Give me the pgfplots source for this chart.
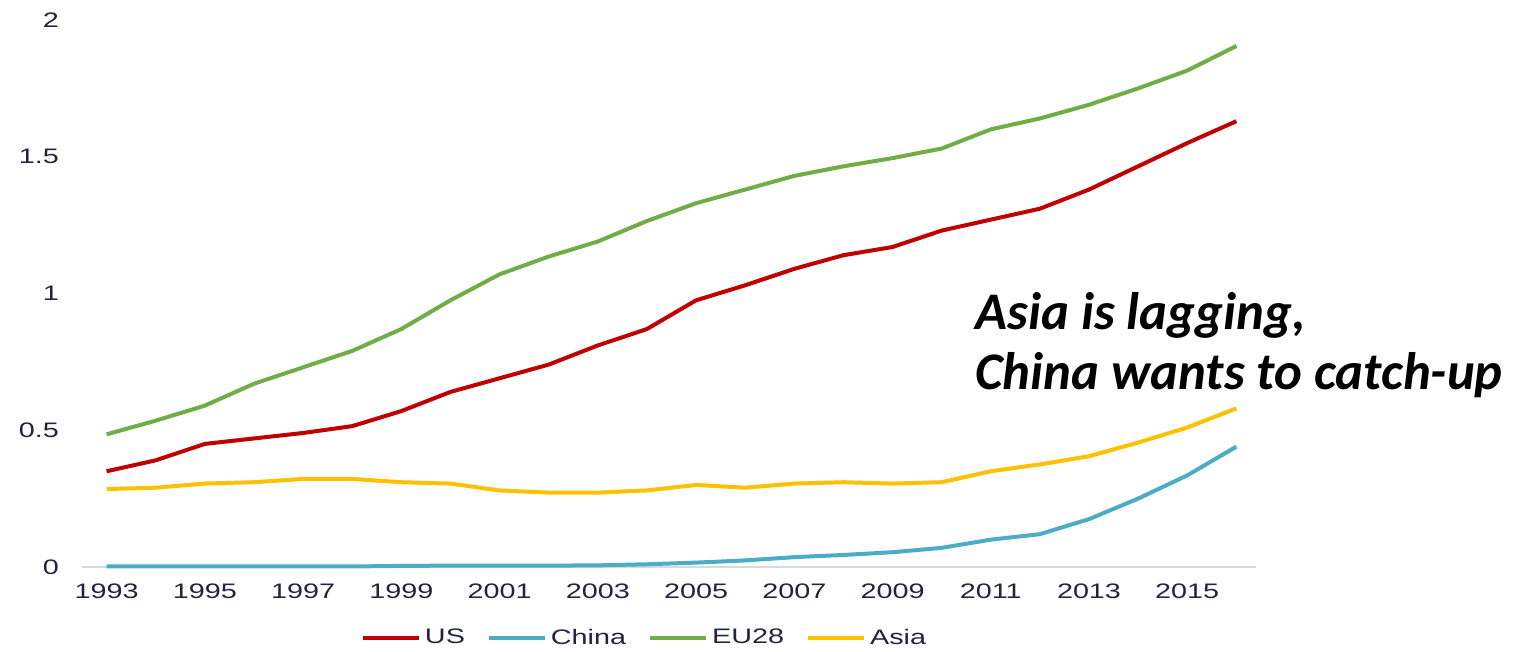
\documentclass[border=0pt]{standalone}
\usepackage{fontspec}
\setmainfont{Liberation Sans}
\newfontfamily\calibri{Carlito}
\usepackage{graphicx}
\usepackage{pgfplots}
\usepackage{pgfplotstable}
\pgfplotsset{compat=1.18}
\definecolor{usred}{RGB}{192,0,0}
\definecolor{cnblue}{RGB}{75,172,198}
\definecolor{eugreen}{RGB}{112,173,71}
\definecolor{asiagold}{RGB}{255,192,0}
\definecolor{txt}{RGB}{35,35,60}
\definecolor{axgray}{RGB}{217,217,217}
\newcommand{\wide}[1]{\scalebox{1.37}[1]{#1}}

\pgfplotstableread{
year US China EU Asia
1993 0.35 0.002 0.485 0.285
1994 0.39 0.002 0.535 0.29
1995 0.45 0.002 0.59 0.305
1996 0.47 0.002 0.67 0.31
1997 0.49 0.002 0.73 0.322
1998 0.515 0.002 0.79 0.322
1999 0.57 0.004 0.87 0.31
2000 0.64 0.005 0.975 0.305
2001 0.69 0.005 1.07 0.28
2002 0.74 0.005 1.135 0.272
2003 0.81 0.006 1.19 0.272
2004 0.87 0.01 1.265 0.28
2005 0.975 0.016 1.33 0.30
2006 1.03 0.024 1.38 0.29
2007 1.09 0.036 1.43 0.305
2008 1.14 0.044 1.465 0.31
2009 1.17 0.054 1.495 0.305
2010 1.23 0.07 1.53 0.31
2011 1.27 0.10 1.60 0.35
2012 1.31 0.12 1.64 0.375
2013 1.38 0.175 1.69 0.405
2014 1.465 0.25 1.75 0.455
2015 1.55 0.335 1.815 0.51
2016 1.63 0.44 1.905 0.58
}\datatable

\begin{document}
\begin{tikzpicture}
\useasboundingbox (0,0) rectangle (762pt,326pt);
\begin{axis}[
  at={(41pt,42.5pt)}, anchor=south west,
  scale only axis, width=587pt, height=273.5pt,
  xmin=1992.5, xmax=2016.4, ymin=0, ymax=2,
  axis lines*=left,
  y axis line style={draw=none},
  x axis line style={axgray, line width=0.75pt},
  tick style={draw=none},
  xtick={1993,1995,...,2015},
  ytick={0,0.5,1,1.5,2},
  xticklabel={\wide{\pgfmathprintnumber[1000 sep={},assume math mode=true]{\tick}}},
  yticklabel={\wide{\pgfmathprintnumber[assume math mode=true]{\tick}}},
  ticklabel style={font=\fontsize{10.5}{12}\selectfont, text=txt},
  yticklabel style={xshift=-8pt},
  xticklabel style={yshift=-5pt},
  clip=false,
  legend style={at={(0.48,-0.13)}, anchor=center, draw=none, fill=none,
    legend columns=4, font=\fontsize{10.5}{12}\selectfont, text=txt,
    /tikz/every even column/.append style={column sep=9pt}},
  legend image code/.code={\draw[#1, line width=2pt] (0pt,0pt) -- (28pt,0pt);},
  every axis plot/.append style={line width=2pt, line join=round},
]
\addplot[usred, no markers] table[x=year, y=US] {\datatable};
\addlegendentry{\wide{US}}
\addplot[cnblue, no markers] table[x=year, y=China] {\datatable};
\addlegendentry{\wide{China}}
\addplot[eugreen, no markers] table[x=year, y=EU] {\datatable};
\addlegendentry{\wide{EU28}}
\addplot[asiagold, no markers] table[x=year, y=Asia] {\datatable};
\addlegendentry{\wide{Asia}}
\end{axis}
\node[anchor=base west, inner sep=0pt, font=\calibri\bfseries\itshape\fontsize{26.4}{30}\selectfont] at (487.5pt,161pt) {Asia is lagging,};
\node[anchor=base west, inner sep=0pt, font=\calibri\bfseries\itshape\fontsize{26.4}{30}\selectfont] at (487.5pt,131pt) {China wants to catch-up};
\end{tikzpicture}
\end{document}
